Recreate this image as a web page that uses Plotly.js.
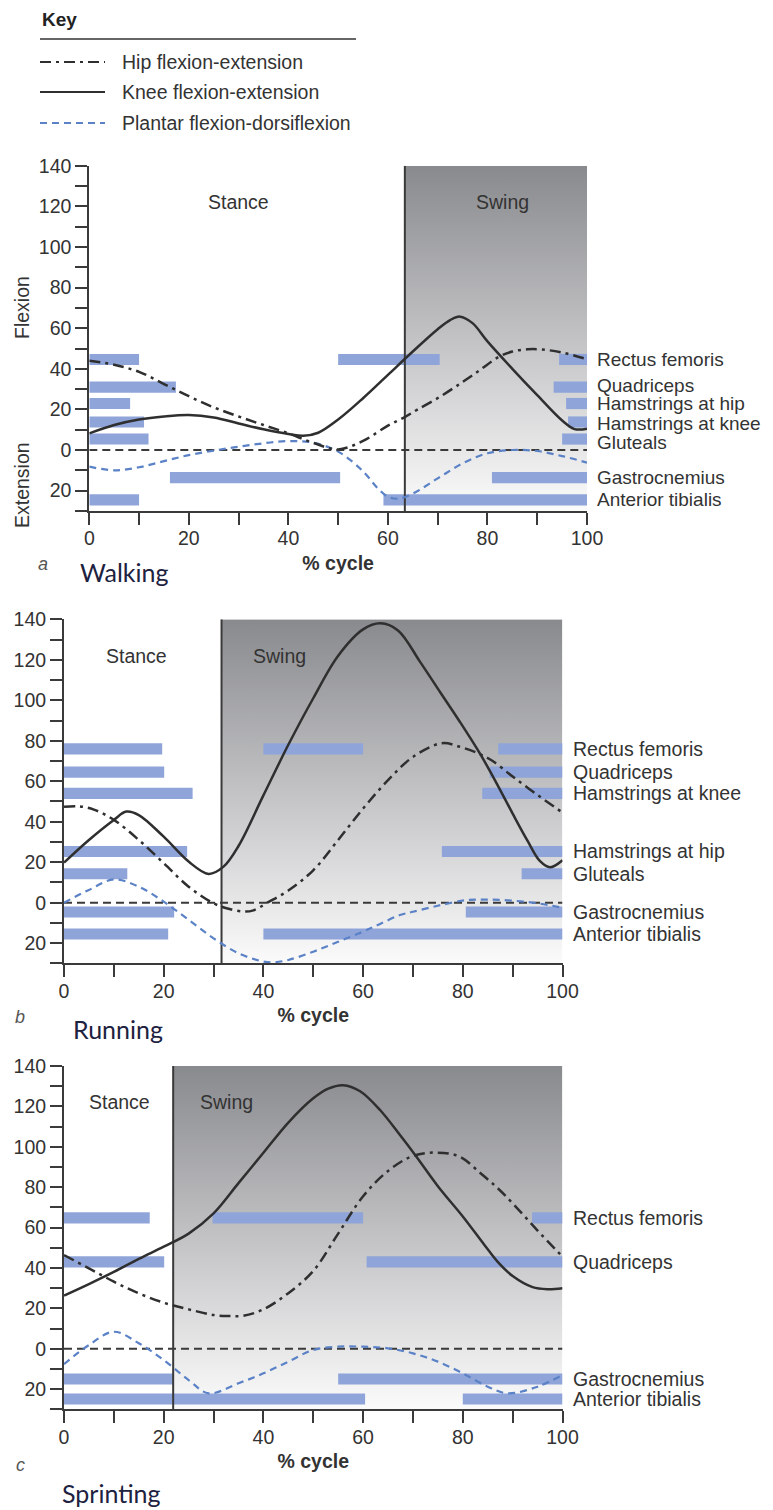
<!DOCTYPE html>
<html><head><meta charset="utf-8">
<script src="https://cdn.plot.ly/plotly-3.0.1.min.js"></script>
<style>html,body{margin:0;padding:0;background:#fff}#chart{width:773px;height:1510px}</style>
</head><body><div id="chart"></div>
<script>
// ---------------- DATA ----------------
const panelNames = ['Walking', 'Running', 'Sprinting'];
const panelLetters = ['a', 'b', 'c'];
const swingStart = [63.4, 31.6, 21.9];   // % cycle where swing begins

const yTickVals = [-20, 0, 20, 40, 60, 80, 100, 120, 140];
const yTickText = ['20', '0', '20', '40', '60', '80', '100', '120', '140'];
const yMinorVals = [-30, -10, 10, 30, 50, 70, 90, 110, 130];
const xTickVals = [0, 20, 40, 60, 80, 100];
const xMinorVals = [10, 30, 50, 70, 90];

// Walking
const walkHipX = [0, 5, 10, 15, 20, 25, 30, 35, 40, 45, 50, 55, 60, 63.3, 66, 70.5, 75, 78.5, 82, 85, 88, 91, 95, 100];
const walkHipY = [44, 42, 38.5, 32.5, 26.5, 21, 16.5, 12.3, 8.2, 3.5, 0.3, 4.5, 12, 16.1, 20, 26.3, 33.5, 39.4, 45.5, 48.5, 49.6, 49.5, 48, 44.7];
const walkKneeX = [0, 5, 10, 15, 20, 25, 30, 35, 40, 43, 46, 50, 55, 60, 65, 70, 72.5, 74.5, 77, 80, 85, 90, 95, 97.5, 100];
const walkKneeY = [8.2, 12.3, 15, 16.5, 17.2, 16, 13.1, 10.2, 7.9, 7, 8.5, 15, 25.5, 37, 48.5, 59.5, 64, 65.7, 62.5, 53.5, 40, 27, 14.5, 10.3, 10.5];
const walkAnkleX = [0, 5, 10, 15, 20, 25, 30, 35, 40, 45, 50, 55, 58, 60, 62, 65, 70, 75, 80, 85, 90, 95, 100];
const walkAnkleY = [-8.2, -10, -8.5, -5.5, -2.5, -0.3, 1.6, 3.3, 4.4, 3.6, -0.8, -10.5, -19, -23, -24, -21.5, -14, -6.6, -1.6, 0, -0.5, -3, -6.2];
const walkMuscles = ['Rectus femoris', 'Quadriceps', 'Hamstrings at hip', 'Hamstrings at knee', 'Gluteals', 'Gastrocnemius', 'Anterior tibialis'];
const walkRows = [44.6, 31, 22.9, 13.8, 5.4, -13.6, -24.6];
const walkOn = [[0, 50, 94.4], [0, 93.3], [0, 95.8], [0, 96.2], [0, 95], [16.2, 80.9], [0, 59.1]];
const walkOff = [[10, 70.4, 100], [17.4, 100], [8.2, 100], [11, 100], [11.9, 100], [50.4, 100], [10, 100]];

// Running
const runHipX = [0, 3, 6, 10, 15, 20, 25, 30, 33, 36, 38, 40.8, 45, 50, 55, 60, 65, 70, 75.8, 79.4, 83.1, 86, 90, 95, 100];
const runHipY = [47.4, 47.6, 46, 40.9, 31, 19.5, 7.9, -0.3, -3, -4.4, -3.8, 0, 6, 16, 31, 46.5, 60.5, 72, 78.8, 77, 73.8, 70, 62.3, 53.2, 44.5];
const runKneeX = [0, 5, 10, 12.5, 15, 20, 25, 29, 32, 35, 40, 45, 50, 55, 60, 63.5, 67, 71.4, 75.4, 79.4, 83.6, 87, 90, 93, 95.5, 97.5, 100];
const runKneeY = [19.8, 31, 40.9, 45, 43.3, 32.6, 20.3, 14.2, 17.8, 28, 53, 78, 101, 122, 135, 138, 134.5, 119.1, 104.2, 89.4, 73, 58, 44, 30.5, 20.5, 17.5, 21];
const runAnkleX = [0, 5, 10, 15, 20, 25, 30, 35, 40, 42, 45, 50, 55, 60, 63.4, 67.4, 70, 75, 80.8, 85, 90, 95, 100];
const runAnkleY = [0, 6.3, 11.5, 7.9, 0.5, -8.5, -17.6, -25, -29.1, -29.5, -28.3, -24.2, -19.3, -14.3, -10.5, -6.1, -4.5, -1.5, 1.3, 1.5, 1, -0.3, -2.5];
const runMuscles = ['Rectus femoris', 'Quadriceps', 'Hamstrings at knee', 'Hamstrings at hip', 'Gluteals', 'Gastrocnemius', 'Anterior tibialis'];
const runRows = [76, 64.5, 54, 25.3, 14.3, -4.6, -15.5];
const runOn = [[0, 40, 87.1], [0, 85.4], [0, 83.9], [0, 75.8], [0, 91.8], [0, 80.6], [0, 40]];
const runOff = [[19.7, 60, 100], [20.1, 100], [25.8, 100], [24.7, 100], [12.7, 100], [22.1, 100], [20.9, 100]];

// Sprinting
const sprHipX = [0, 5, 10, 15, 20, 25, 30, 33, 36, 40, 45, 50, 55, 60, 65, 70, 74.8, 79.4, 83.5, 87, 90, 95, 100];
const sprHipY = [46.4, 39.8, 33.2, 27.4, 22.8, 19.5, 16.7, 16.2, 16.3, 19.5, 27.5, 38.5, 57, 75.5, 88, 95.5, 97.1, 95.1, 87, 79.5, 72, 58.5, 45.6];
const sprKneeX = [0, 5, 10, 15, 20, 25, 30, 35, 40, 45, 50, 53, 56, 59.4, 63.4, 67.4, 70.7, 75, 80, 84.3, 87, 90, 94, 97, 100];
const sprKneeY = [26.3, 32, 38, 44.5, 50.5, 57, 67, 82, 97, 112, 124, 128.8, 130.5, 127.5, 118.2, 105.8, 95.1, 80.5, 65.5, 51.5, 43, 36, 30.5, 29.5, 30];
const sprAnkleX = [0, 5, 10, 15, 20, 25, 29, 35, 40, 45, 50, 55, 60, 65, 70, 75, 80, 85, 89, 95, 100];
const sprAnkleY = [-7.6, 1.8, 8.4, 2.7, -5.6, -15.5, -22.1, -17.1, -12.2, -6.4, -0.6, 1, 1, 0.2, -2.3, -6.4, -12.2, -18.8, -22.1, -18.8, -13];
const sprMuscles = ['Rectus femoris', 'Quadriceps', 'Gastrocnemius', 'Anterior tibialis'];
const sprRows = [64.8, 43, -15, -24.9];
const sprOn = [[0, 29.8, 93.9], [0, 60.7], [0, 55], [0, 80]];
const sprOff = [[17.2, 60, 100], [20.1, 100], [21.9, 100], [60.4, 100]];

const keyNames = ['Hip flexion-extension', 'Knee flexion-extension', 'Plantar flexion-dorsiflexion'];

// ---------------- STYLE / LAYOUT ----------------
const FONT = 'Liberation Sans, Arial, Helvetica, sans-serif';
const INK = '#333333';
const LINE = '#2f2f2f';
const BLUE = '#5b82c6';
const BAR = '#8fa4d9';
const HIPDASH = '11px,5px,3px,5px';
const ANKDASH = '7px,5px';
const W = 773, H = 1510;

const panels = [
  {hipX: walkHipX, hipY: walkHipY, kneeX: walkKneeX, kneeY: walkKneeY, ankX: walkAnkleX, ankY: walkAnkleY,
   muscles: walkMuscles, rows: walkRows, on: walkOn, off: walkOff,
   xpx: [89.3, 587], ypx: [165.8, 510.9], labelShift: [0, 2, 0.5, -1.5, -3.5, 0, 0], labelSize: 19},
  {hipX: runHipX, hipY: runHipY, kneeX: runKneeX, kneeY: runKneeY, ankX: runAnkleX, ankY: runAnkleY,
   muscles: runMuscles, rows: runRows, on: runOn, off: runOff,
   xpx: [64, 562.5], ypx: [619.3, 963.4], labelShift: [0, 0, 0, 0, 0, 0, 0], labelSize: 19.5},
  {hipX: sprHipX, hipY: sprHipY, kneeX: sprKneeX, kneeY: sprKneeY, ankX: sprAnkleX, ankY: sprAnkleY,
   muscles: sprMuscles, rows: sprRows, on: sprOn, off: sprOff,
   xpx: [64, 562.5], ypx: [1066.0, 1409.3], labelShift: [0, 0, 0, 0], labelSize: 19.5}
];
const phaseLabelPos = [[29.9, 83.1], [14.6, 43.3], [11.1, 32.5]];
const caption = [{lx: 43, ly: 564, tx: 79, ty: 572}, {lx: 20, ly: 1017, tx: 72, ty: 1029}, {lx: 20, ly: 1465, tx: 61, ty: 1493}];

const gradSvg = 'data:image/svg+xml;utf8,' + encodeURIComponent(
  '<svg xmlns="http://www.w3.org/2000/svg" width="10" height="100" viewBox="0 0 10 100" preserveAspectRatio="none">' +
  '<defs><linearGradient id="g" x1="0" y1="0" x2="0" y2="1">' +
  '<stop offset="0" stop-color="#898a8e"/><stop offset="1" stop-color="#fbfbfb"/></linearGradient></defs>' +
  '<rect x="0" y="0" width="10" height="100" fill="url(#g)"/></svg>');

const traces = [];
const layout = {
  width: W, height: H, margin: {l: 0, r: 0, t: 0, b: 0},
  paper_bgcolor: '#ffffff', plot_bgcolor: 'rgba(0,0,0,0)',
  showlegend: false, barmode: 'overlay',
  font: {family: FONT, size: 19, color: INK},
  annotations: [], shapes: [], images: []
};

panels.forEach((p, i) => {
  const s = i === 0 ? '' : String(i + 1);
  const xa = 'x' + s, ya = 'y' + s;
  // muscle activity bars
  const by = [], bb = [], bx = [];
  p.rows.forEach((r, m) => {
    p.on[m].forEach((o, k) => { by.push(r); bb.push(o); bx.push(p.off[m][k] - o); });
  });
  traces.push({type: 'bar', orientation: 'h', y: by, base: bb, x: bx, width: 5.5,
    marker: {color: BAR, line: {width: 0}}, xaxis: xa, yaxis: ya, hoverinfo: 'skip'});
  // zero line
  traces.push({type: 'scatter', mode: 'lines', x: [0, 100], y: [0, 0], xaxis: xa, yaxis: ya,
    line: {color: '#3a3a3a', width: 2, dash: '8px,5px'}, hoverinfo: 'skip'});
  // stance / swing boundary
  traces.push({type: 'scatter', mode: 'lines', x: [swingStart[i], swingStart[i]], y: [-30, 140], xaxis: xa, yaxis: ya,
    line: {color: '#3a3a3a', width: 2}, hoverinfo: 'skip'});
  // joint angle curves
  traces.push({type: 'scatter', mode: 'lines', name: keyNames[2], x: p.ankX, y: p.ankY, xaxis: xa, yaxis: ya,
    line: {color: BLUE, width: 2.2, dash: ANKDASH, shape: 'spline', smoothing: 1}});
  traces.push({type: 'scatter', mode: 'lines', name: keyNames[0], x: p.hipX, y: p.hipY, xaxis: xa, yaxis: ya,
    line: {color: LINE, width: 2.5, dash: HIPDASH, shape: 'spline', smoothing: 1}});
  traces.push({type: 'scatter', mode: 'lines', name: keyNames[1], x: p.kneeX, y: p.kneeY, xaxis: xa, yaxis: ya,
    line: {color: LINE, width: 2.5, shape: 'spline', smoothing: 1}});

  layout['xaxis' + s] = {
    domain: [p.xpx[0] / W, p.xpx[1] / W], anchor: ya, range: [0, 100], fixedrange: true,
    showline: true, linewidth: 2, linecolor: '#3a3a3a', showgrid: false, zeroline: false,
    ticks: 'outside', ticklen: 12, tickwidth: 2, tickcolor: '#3a3a3a',
    tickmode: 'array', tickvals: xTickVals, ticktext: xTickVals.map(String),
    tickfont: {family: FONT, size: 19.5, color: INK}, ticklabelstandoff: -3,
    minor: {tickmode: 'array', tickvals: xMinorVals, ticks: 'outside', ticklen: 12, tickwidth: 2, tickcolor: '#3a3a3a', showgrid: false},
    title: {text: '% cycle', font: {family: FONT, size: 19.5, color: INK, weight: 'bold'}, standoff: 8}
  };
  layout['yaxis' + s] = {
    domain: [1 - p.ypx[1] / H, 1 - p.ypx[0] / H], anchor: xa, range: [-30, 140], fixedrange: true,
    showline: true, linewidth: 2, linecolor: '#3a3a3a', showgrid: false, zeroline: false,
    ticks: 'outside', ticklen: 12, tickwidth: 2, tickcolor: '#3a3a3a',
    tickmode: 'array', tickvals: yTickVals, ticktext: yTickText,
    tickfont: {family: FONT, size: 19.5, color: INK},
    minor: {tickmode: 'array', tickvals: yMinorVals, ticks: 'outside', ticklen: 12, tickwidth: 2, tickcolor: '#3a3a3a', showgrid: false}
  };
  // swing shading
  layout.images.push({source: gradSvg, xref: xa, yref: ya, x: swingStart[i], y: 140,
    sizex: 100 - swingStart[i], sizey: 170, sizing: 'stretch', xanchor: 'left', yanchor: 'top', layer: 'below'});
  // phase labels
  layout.annotations.push({xref: xa, yref: ya, x: phaseLabelPos[i][0], y: 122, text: 'Stance', showarrow: false,
    xanchor: 'center', yanchor: 'middle', font: {size: 19.5, color: INK}});
  layout.annotations.push({xref: xa, yref: ya, x: phaseLabelPos[i][1], y: 122, text: 'Swing', showarrow: false,
    xanchor: 'center', yanchor: 'middle', font: {size: 19.5, color: INK}});
  // muscle labels
  p.muscles.forEach((m, k) => {
    layout.annotations.push({xref: xa, yref: ya, x: 100, y: p.rows[k], xshift: 9, yshift: p.labelShift[k],
      xanchor: 'left', yanchor: 'middle', text: m, showarrow: false, borderpad: 0, font: {size: p.labelSize, color: INK}});
  });
  // panel letter + activity caption
  const c = caption[i];
  layout.annotations.push({xref: 'paper', yref: 'paper', x: c.lx / W, y: 1 - c.ly / H, text: '<i>' + panelLetters[i] + '</i>',
    showarrow: false, xanchor: 'center', yanchor: 'middle', font: {size: 18, color: '#555'}});
  layout.annotations.push({xref: 'paper', yref: 'paper', x: c.tx / W, y: 1 - c.ty / H, text: panelNames[i],
    showarrow: false, xanchor: 'left', yanchor: 'middle', borderpad: 0,
    font: {family: 'Lato, Carlito, sans-serif', size: 25, color: '#1d2240'}});
});

// y-axis titles (panel a)
layout.annotations.push({xref: 'paper', yref: 'paper', x: 22 / W, y: 1 - 308 / H, text: 'Flexion', textangle: -90,
  xanchor: 'center', yanchor: 'middle', showarrow: false, font: {size: 19.5, color: INK}});
layout.annotations.push({xref: 'paper', yref: 'paper', x: 22 / W, y: 1 - 485 / H, text: 'Extension', textangle: -90,
  xanchor: 'center', yanchor: 'middle', showarrow: false, font: {size: 19.5, color: INK}});

// key
layout.annotations.push({xref: 'paper', yref: 'paper', x: 40 / W, y: 1 - 20 / H, text: '<b>Key</b>', showarrow: false,
  xanchor: 'left', yanchor: 'middle', font: {size: 19, color: '#222'}});
layout.shapes.push({type: 'line', xref: 'paper', yref: 'paper', x0: 40 / W, x1: 356 / W, y0: 1 - 39 / H, y1: 1 - 39 / H,
  line: {color: '#333', width: 1.5}});
const keyY = [62, 92, 123];
const keyStyle = [{color: LINE, dash: HIPDASH}, {color: LINE, dash: 'solid'}, {color: BLUE, dash: ANKDASH}];
keyNames.forEach((n, k) => {
  layout.shapes.push({type: 'line', xref: 'paper', yref: 'paper', x0: 40 / W, x1: 105 / W, y0: 1 - keyY[k] / H, y1: 1 - keyY[k] / H,
    line: {color: keyStyle[k].color, width: 2, dash: keyStyle[k].dash}});
  layout.annotations.push({xref: 'paper', yref: 'paper', x: 120 / W, y: 1 - keyY[k] / H, text: n, showarrow: false,
    xanchor: 'left', yanchor: 'middle', font: {size: 19.5, color: INK}});
});

Plotly.newPlot('chart', traces, layout, {staticPlot: true, displayModeBar: false});
</script></body></html>
